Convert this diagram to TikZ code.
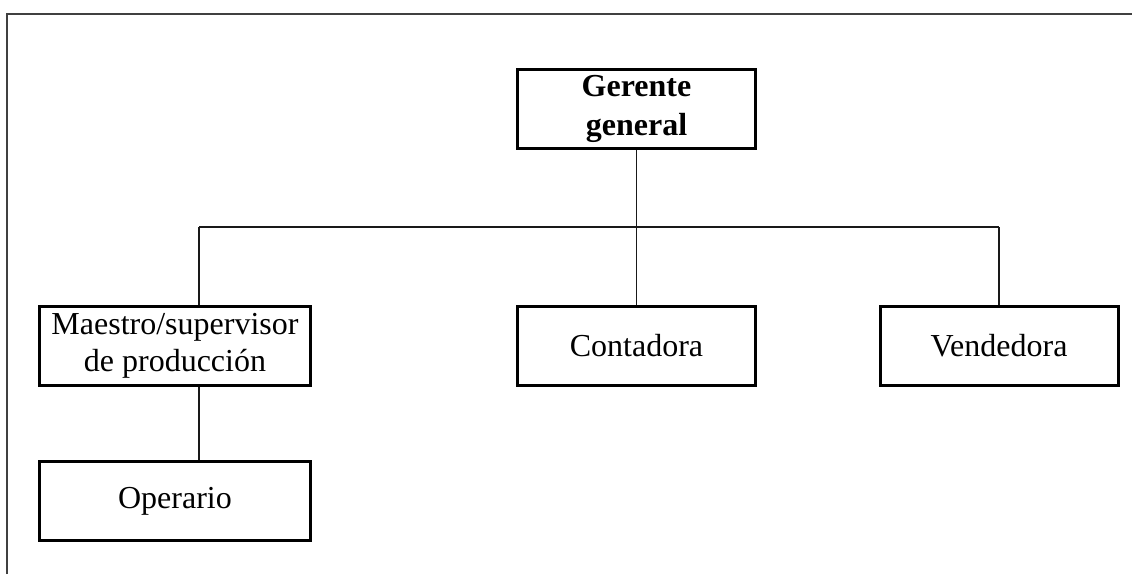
\documentclass[tikz,border=0pt]{standalone}
\usepackage{fontspec}
\setmainfont{Liberation Serif}
\begin{document}
\begin{tikzpicture}[x=1pt,y=-1pt,
  unit/.style={draw=black,line width=3pt,fill=white,minimum width=238pt,
    minimum height=79pt,inner sep=0pt,align=center,
    font=\fontsize{32}{37.5}\selectfont},
  wideunit/.style={unit,minimum width=271pt},
  link/.style={draw=black!90,line width=1.4pt},
  frame/.style={draw=black!75,line width=2.2pt}]
\useasboundingbox (0,0) rectangle (1132,574);
% page frame (top and left edges only)
\draw[frame] (7,574) -- (7,14) -- (1132,14);
% positions
\node[unit,font=\fontsize{32}{38.5}\selectfont\bfseries] (gerente) at (636.5,109) {Gerente\\general};
\node[wideunit] (maestro) at (175,346) {Maestro/supervisor\\de producción};
\node[unit] (contadora) at (636.5,346) {Contadora};
\node[unit] (vendedora) at (999,346) {Vendedora};
\node[wideunit] (operario) at (175,501) {Operario};
% bus
\coordinate (busL) at (199,227);
\coordinate (busR) at (999,227);
\draw[link] (busL) -- (busR);
\draw[link] (gerente.south) -- (contadora.north);
\draw[link] (busL) -- (busL |- maestro.north);
\draw[link] (busR) -- (vendedora.north);
\draw[link] (maestro.south -| busL) -- (operario.north -| busL);
\end{tikzpicture}
\end{document}
